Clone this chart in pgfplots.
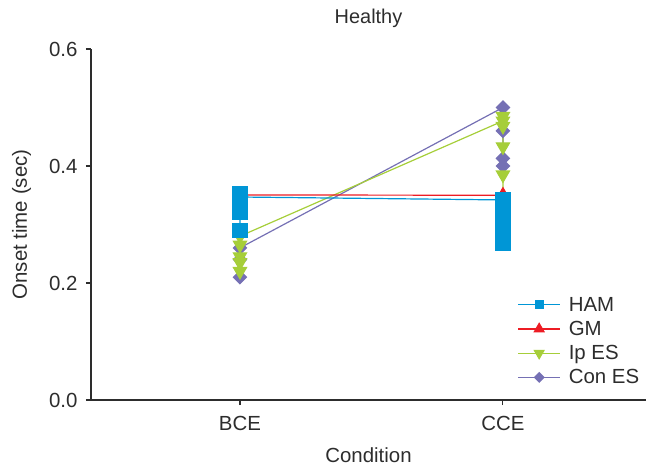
\documentclass[border=0pt]{standalone}
\usepackage{pgfplots}
\pgfplotsset{compat=1.18}
\usepackage{fontspec}
\setmainfont{Liberation Sans}
\definecolor{hamc}{RGB}{0,150,214}
\definecolor{gmc}{RGB}{237,28,36}
\definecolor{ipc}{RGB}{166,206,57}
\definecolor{conc}{RGB}{117,112,180}
\definecolor{axc}{RGB}{45,45,45}
\begin{document}
\begin{tikzpicture}
\begin{axis}[
  scale only axis, width=555bp, height=351bp,
  xmin=-0.5665, xmax=1.544, ymin=0, ymax=0.6,
  axis lines*=left,
  axis line style={axc, line width=1.1bp},
  xtick={0,1}, xticklabels={BCE,CCE},
  ytick={0,0.2,0.4,0.6},
  yticklabel style={/pgf/number format/.cd, fixed, fixed zerofill, precision=1, /tikz/.cd, xshift=-5bp},
  xticklabel style={yshift=-8bp},
  /pgf/number format/assume math mode=true,
  tick align=outside, major tick length=5bp, minor tick num=0,
  tick style={axc, line width=1.1bp},
  tick label style={font=\fontsize{20.5}{24}\selectfont, text=axc},
  title={Healthy},
  every axis title/.style={at={(axis description cs:0.5,1.088)}, anchor=center, font=\fontsize{20}{24}\selectfont, text=axc},
  xlabel={Condition},
  every axis x label/.style={at={(axis description cs:0.5,-0.158)}, anchor=center, font=\fontsize{20.5}{24}\selectfont, text=axc},
  ylabel={Onset time (sec)},
  every axis y label/.style={at={(axis description cs:-0.125,0.5)}, rotate=90, anchor=center, font=\fontsize{20.5}{24}\selectfont, text=axc},
  legend style={at={(0.997,0.03)}, anchor=south east, draw=none, fill=none,
    font=\fontsize{20.5}{24}\selectfont, text=axc, row sep=4.5bp},
  legend cell align=left,
  legend image code/.code={\draw[#1, mark repeat=2, mark phase=2] plot coordinates {(0bp,0bp) (21bp,0bp) (42bp,0bp)}; \path (48bp,0bp);},
  clip=false,
]
\addlegendimage{hamc, line width=1.2bp, mark=square*, mark size=4bp}
\addlegendentry{HAM}
\addlegendimage{gmc, line width=1.2bp, mark=triangle*, mark size=5.5bp}
\addlegendentry{GM}
\addlegendimage{ipc, line width=1.2bp, mark=triangle*, mark size=5.5bp, mark options={rotate=180}}
\addlegendentry{Ip ES}
\addlegendimage{conc, line width=1.2bp, mark=square*, mark size=3.3bp, mark options={rotate=45}}
\addlegendentry{Con ES}

\addplot[forget plot, conc, line width=1.2bp, mark=square*, mark size=4.6bp, mark options={rotate=45}]
  coordinates {(0,0.21) (0,0.24) (0,0.26) (1,0.50) (1,0.46) (1,0.413) (1,0.40)};
\addplot[forget plot, ipc, line width=1.2bp, mark=triangle*, mark size=7.5bp, mark options={rotate=180}]
  coordinates {(0,0.22) (0,0.235) (0,0.245) (0,0.265) (0,0.28) (1,0.477) (1,0.485) (1,0.468) (1,0.433) (1,0.385) (1,0.345)};
\addplot[forget plot, gmc, line width=1.2bp, mark=triangle*, mark size=7.5bp]
  coordinates {(0,0.33) (0,0.3505) (1,0.35) (1,0.32) (1,0.30)};
\addplot[forget plot, hamc, line width=1.2bp, mark=square*, mark size=7bp]
  coordinates {(0,0.29) (0,0.32) (0,0.33) (0,0.34) (0,0.352) (0,0.347) (1,0.342) (1,0.33) (1,0.32) (1,0.31) (1,0.30) (1,0.29) (1,0.28) (1,0.268)};
\end{axis}
\pgfresetboundingbox
\path ([shift={(-91bp,-66bp)}]current axis.south west) rectangle ([shift={(0bp,49bp)}]current axis.north east);
\end{tikzpicture}
\end{document}
